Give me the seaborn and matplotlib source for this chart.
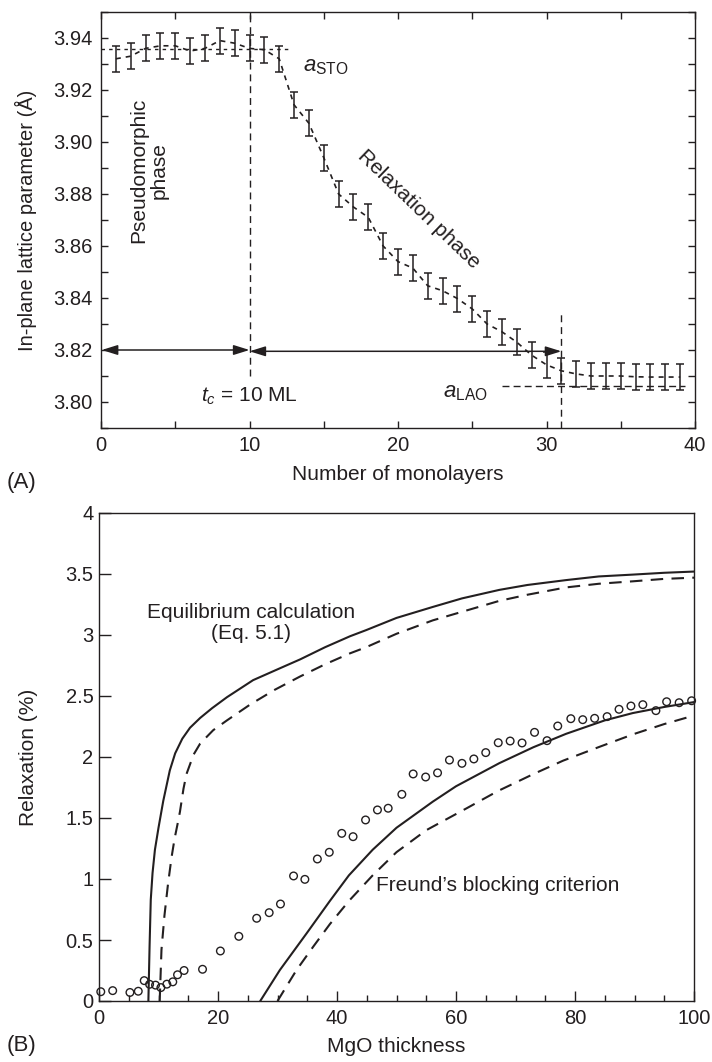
import numpy as np
import pandas as pd
import matplotlib
matplotlib.use("Agg")
import matplotlib.pyplot as plt
import seaborn as sns
from matplotlib.ticker import MultipleLocator, FuncFormatter

# ---------------- data: panel A ----------------
monolayers = [1, 2, 3, 4, 5, 6, 7, 8, 9, 10, 11, 12, 13, 14, 15, 16, 17, 18, 19, 20,
              21, 22, 23, 24, 25, 26, 27, 28, 29, 30, 31, 32, 33, 34, 35, 36, 37, 38, 39]
lattice = [3.932, 3.933, 3.936, 3.937, 3.937, 3.935, 3.936, 3.939, 3.938, 3.936,
           3.9355, 3.932, 3.9143, 3.9072, 3.894, 3.880, 3.875, 3.871, 3.860, 3.854,
           3.8515, 3.8447, 3.8428, 3.8398, 3.8358, 3.830, 3.827, 3.823, 3.818, 3.8143,
           3.812, 3.8108, 3.810, 3.810, 3.810, 3.8097, 3.8096, 3.8096, 3.8096]
lattice_err = [0.005] * 39
a_sto_value = 3.9357
a_sto_span = [0, 12.7]
a_lao_value = 3.806
a_lao_span = [27, 39.3]
t_c = 10
t_end = 31

# ---------------- data: panel B ----------------
mgo_thk = [0.3, 2.3, 5.2, 6.6, 7.6, 8.5, 9.5, 10.4, 11.4, 12.4, 13.2, 14.3, 17.4, 20.4,
           23.5, 26.5, 28.6, 30.5, 32.7, 34.6, 36.7, 38.7, 40.8, 42.7, 44.8, 46.8, 48.6,
           50.9, 52.8, 54.9, 56.9, 58.9, 61.0, 63.0, 65.0, 67.1, 69.1, 71.1, 73.2, 75.3,
           77.1, 79.3, 81.3, 83.3, 85.4, 87.4, 89.4, 91.4, 93.6, 95.4, 97.5, 99.6]
relax = [0.076, 0.085, 0.07, 0.08, 0.167, 0.137, 0.13, 0.11, 0.138, 0.157, 0.215, 0.25,
         0.26, 0.41, 0.53, 0.678, 0.724, 0.795, 1.025, 0.997, 1.164, 1.219, 1.374, 1.347,
         1.484, 1.566, 1.58, 1.694, 1.861, 1.836, 1.87, 1.975, 1.948, 1.984, 2.036, 2.117,
         2.131, 2.115, 2.202, 2.134, 2.254, 2.314, 2.306, 2.317, 2.331, 2.391, 2.418,
         2.429, 2.38, 2.453, 2.445, 2.461]

eq_solid_x = [8.3, 8.5, 8.7, 9.0, 9.4, 10.0, 10.8, 11.9, 12.8, 14.0, 15.3, 17.0, 19.0,
              21.5, 25.9, 31.0, 33.8, 38.0, 42.2, 44.9, 50.0, 56.1, 61.0, 67.3, 72.0,
              78.5, 84.0, 89.7, 95.0, 100]
eq_solid_y = [0.0, 0.45, 0.83, 1.05, 1.24, 1.42, 1.64, 1.89, 2.03, 2.15, 2.24, 2.32, 2.40,
              2.49, 2.63, 2.74, 2.80, 2.90, 2.99, 3.04, 3.14, 3.23, 3.30, 3.37, 3.41,
              3.45, 3.48, 3.495, 3.51, 3.52]
eq_dash_x = [10.2, 10.5, 11.0, 11.6, 12.2, 12.7, 13.2, 13.6, 14.2, 14.7, 15.9, 17.0, 19.2,
             21.5, 25.4, 29.5, 33.8, 38.0, 42.2, 44.9, 50.0, 56.1, 61.0, 67.3, 72.0,
             78.5, 84.0, 89.7, 95.0, 100]
eq_dash_y = [0.0, 0.42, 0.70, 0.96, 1.18, 1.33, 1.45, 1.55, 1.74, 1.86, 2.02, 2.11, 2.22,
             2.30, 2.43, 2.55, 2.66, 2.76, 2.85, 2.90, 3.01, 3.12, 3.19, 3.28, 3.33,
             3.39, 3.42, 3.44, 3.46, 3.47]
fr_solid_x = [27.1, 30.4, 34.9, 38.8, 42.0, 46.0, 50.0, 56.1, 60.0, 67.3, 73.0, 78.5,
              85.0, 89.7, 95.0, 100]
fr_solid_y = [0.0, 0.254, 0.555, 0.82, 1.03, 1.24, 1.42, 1.634, 1.76, 1.95, 2.08, 2.19,
              2.30, 2.36, 2.41, 2.45]
fr_dash_x = [30.0, 33.2, 36.0, 38.8, 42.0, 46.0, 50.0, 55.0, 61.8, 67.0, 73.0, 78.0,
             84.2, 90.0, 95.0, 100]
fr_dash_y = [0.0, 0.254, 0.445, 0.63, 0.82, 1.03, 1.22, 1.40, 1.58, 1.72, 1.86, 1.97,
             2.085, 2.19, 2.27, 2.34]

# ---------------- style ----------------
sns.set_theme(style="ticks")
plt.rcParams["font.family"] = ["Liberation Sans", "DejaVu Sans"]
plt.rcParams["mathtext.fontset"] = "custom"
plt.rcParams["mathtext.rm"] = "Liberation Sans"
plt.rcParams["mathtext.it"] = "Liberation Sans:italic"
plt.rcParams["lines.scale_dashes"] = False
INK = "#231f20"
FS = 15
TFS = 14.5
plt.rcParams["text.color"] = INK
plt.rcParams["axes.labelcolor"] = INK

W, H = 712, 1062
fig = plt.figure(figsize=(W / 100, H / 100), dpi=100)

def px_axes(l, t, r, b):
    return fig.add_axes([l / W, 1 - b / H, (r - l) / W, (b - t) / H])

ax1 = px_axes(101, 12, 695, 428)
ax2 = px_axes(99, 513, 694, 1001)

for ax in (ax1, ax2):
    for s in ax.spines.values():
        s.set_linewidth(1.0)
        s.set_color(INK)
        s.set_visible(True)

# ---------------- panel A ----------------
dfA = pd.DataFrame({"ml": monolayers, "a": lattice, "err": lattice_err})
sns.lineplot(data=dfA, x="ml", y="a", ax=ax1, color=INK, lw=1.2,
             linestyle=(0, (3.6, 3.6)), estimator=None, sort=False)
ax1.errorbar(dfA["ml"], dfA["a"], yerr=dfA["err"], fmt="none", ecolor=INK,
             elinewidth=1.1, capsize=3, capthick=1.1)
ax1.plot(a_sto_span, [a_sto_value] * 2, color=INK, lw=1.0, linestyle=(0, (2.5, 3)))
ax1.plot(a_lao_span, [a_lao_value] * 2, color=INK, lw=1.0, linestyle=(0, (5, 3)))
ax1.plot([t_c, t_c], [3.81, 3.95], color=INK, lw=1.0, linestyle=(0, (5, 3.5)))
ax1.plot([t_end, t_end], [3.79, 3.8346], color=INK, lw=1.0, linestyle=(0, (5, 3.5)))

arrow_kw = dict(arrowstyle="<|-|>,head_length=0.8,head_width=0.25", color=INK, lw=1.1,
                shrinkA=0, shrinkB=0)
ax1.annotate("", xy=(t_c, 3.82), xytext=(0.05, 3.82), arrowprops=arrow_kw)
ax1.annotate("", xy=(t_end, 3.8195), xytext=(t_c, 3.8195), arrowprops=arrow_kw)

ax1.text(3.2, 3.889, "Pseudomorphic\nphase", rotation=90, ha="center", va="center",
         multialignment="center", fontsize=FS, linespacing=1.1)
ax1.text(21.4, 3.874, "Relaxation phase", rotation=-44, ha="center", va="center",
         rotation_mode="anchor", fontsize=FS)
ax1.text(13.6, 3.929, r"$a_{\mathrm{STO}}$", ha="left", va="center", fontsize=16)
ax1.text(23.0, 3.8035, r"$a_{\mathrm{LAO}}$", ha="left", va="center", fontsize=16)
ax1.text(t_c, 3.802, r"$t_c$ = 10 ML", ha="center", va="center", fontsize=FS)

ax1.set_xlim(0, 40)
ax1.set_ylim(3.79, 3.95)
ax1.xaxis.set_major_locator(MultipleLocator(10))
ax1.xaxis.set_minor_locator(MultipleLocator(5))
ax1.yaxis.set_major_locator(MultipleLocator(0.02))
ax1.yaxis.set_minor_locator(MultipleLocator(0.01))
ax1.yaxis.set_major_formatter(FuncFormatter(lambda v, p: f"{v:.2f}"))
ax1.tick_params(which="both", direction="in", top=True, right=True, length=5,
                width=1.0, color=INK, labelsize=TFS, labelcolor=INK, pad=6)
ax1.set_xlabel("Number of monolayers", fontsize=FS)
ax1.set_ylabel("In-plane lattice parameter (Å)", fontsize=14.5)
ax1.xaxis.set_label_coords(0.5, (428 - 475) / 416)
ax1.xaxis.label.set_va("center")
ax1.yaxis.set_label_coords((26 - 101) / 594, 0.5)
ax1.yaxis.label.set_va("center")

# ---------------- panel B ----------------
sns.scatterplot(x=mgo_thk, y=relax, ax=ax2, marker="o", s=30, facecolor="none",
                edgecolor=INK, linewidth=1.0, clip_on=False, zorder=3)
curves = [(eq_solid_x, eq_solid_y, "-"), (eq_dash_x, eq_dash_y, (0, (9, 6))),
          (fr_solid_x, fr_solid_y, "-"), (fr_dash_x, fr_dash_y, (0, (9, 6)))]
for cx, cy, ls in curves:
    sns.lineplot(x=cx, y=cy, ax=ax2, color=INK, lw=1.5, linestyle=ls,
                 estimator=None, sort=False)

ax2.text(25.5, 3.10, "Equilibrium calculation\n(Eq. 5.1)", ha="center", va="center",
         multialignment="center", fontsize=FS, linespacing=1.1)
ax2.text(46.5, 0.95, "Freund\u2019s blocking criterion", ha="left", va="center",
         fontsize=FS)

ax2.set_xlim(0, 100)
ax2.set_ylim(0, 4)
ax2.xaxis.set_major_locator(MultipleLocator(20))
ax2.xaxis.set_minor_locator(MultipleLocator(5))
ax2.yaxis.set_major_locator(MultipleLocator(0.5))
ax2.yaxis.set_major_formatter(FuncFormatter(lambda v, p: f"{v:g}"))
ax2.tick_params(which="both", direction="in", top=False, right=False, width=1.0,
                color=INK, labelsize=TFS, labelcolor=INK)
ax2.tick_params(axis="x", which="major", length=7, pad=6)
ax2.tick_params(axis="x", which="minor", length=4.3)
ax2.tick_params(axis="y", which="major", length=8.5, pad=4)
ax2.set_xlabel("MgO thickness", fontsize=FS)
ax2.set_ylabel("Relaxation (%)", fontsize=FS)
ax2.xaxis.set_label_coords(0.5, (1001 - 1047) / 488)
ax2.xaxis.label.set_va("center")
ax2.yaxis.set_label_coords((29 - 99) / 595, 0.5)
ax2.yaxis.label.set_va("center")

fig.text(22 / W, 1 - 482 / H, "(A)", ha="center", va="center", fontsize=FS + 1)
fig.text(22 / W, 1 - 1045 / H, "(B)", ha="center", va="center", fontsize=FS + 1)

fig.savefig("out.png", dpi=100)
